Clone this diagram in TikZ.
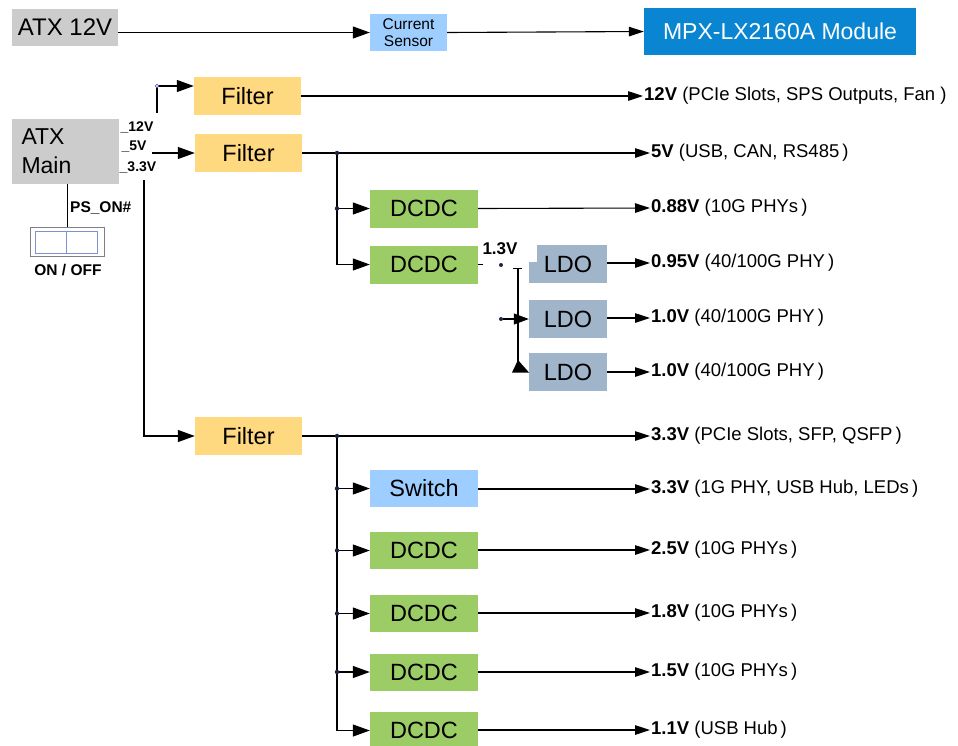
\documentclass[tikz,border=0pt]{standalone}
\usepackage{fontspec}
\setmainfont{Liberation Sans}
\usetikzlibrary{arrows.meta}
\definecolor{atxgray}{HTML}{CCCCCC}
\definecolor{filterc}{HTML}{FFD97F}
\definecolor{dcdcc}{HTML}{9BCC66}
\definecolor{ldoc}{HTML}{A0B4CA}
\definecolor{swc}{HTML}{9DCEFF}
\definecolor{mpxc}{HTML}{0A85D2}
\definecolor{dotc}{HTML}{1A2744}
\begin{document}
\begin{tikzpicture}[x=1pt,y=-1pt,
  blk/.style={rectangle, inner sep=0pt, draw=none, text=black},
  big/.style={font=\fontsize{23.5}{27}\selectfont},
  graybox/.style={blk, fill=atxgray},
  filterbox/.style={blk, big, fill=filterc, minimum width=107pt, minimum height=38pt},
  dcdcbox/.style={blk, big, fill=dcdcc, minimum width=108pt, minimum height=38pt},
  ldobox/.style={blk, big, fill=ldoc, minimum width=78pt, minimum height=38pt},
  swbox/.style={blk, big, fill=swc, minimum width=108pt, minimum height=37pt},
  outlbl/.style={anchor=west, inner sep=1pt, font=\fontsize{18.5}{21}\selectfont},
  small/.style={inner sep=0pt, font=\bfseries\fontsize{14}{16}\selectfont},
  wire/.style={line width=1.1pt, draw=black},
  arr/.style={wire, -{Triangle[length=17pt,width=12pt]}},
  outarr/.style={wire, -{Triangle[length=15pt,width=9.5pt]}},
  jdot/.style={circle, fill=dotc, inner sep=0pt, minimum size=4.5pt}
]
\useasboundingbox (0,0) rectangle (958,745);

% top row
\node[graybox, minimum width=106pt, minimum height=37pt, font=\fontsize{24}{28}\selectfont] (atx12) at (65,27.5) {ATX 12V};
\node[blk, fill=swc, minimum width=77pt, minimum height=37pt, align=center, font=\fontsize{15.5}{17}\selectfont] (sensor) at (408.5,32.5) {Current\\Sensor};
\node[blk, fill=mpxc, text=white, minimum width=272pt, minimum height=47pt, font=\fontsize{23}{27}\selectfont] (mpx) at (780,31.5) {MPX-LX2160A Module};
\draw[arr] (atx12.east |- sensor.west) -- (sensor.west);
\draw[outarr] (sensor.east) -- (mpx.west);

% ATX main
\node[graybox, minimum width=107pt, minimum height=65pt, text width=88pt, inner xsep=9.5pt, align=left, font=\fontsize{23}{29}\selectfont] (atxmain) at (65.5,151.5) {ATX\\Main};
\node[small] (v12) at (137,127) {\_12V};
\node[small] (v5) at (134,147) {\_5V};
\node[small] (v33) at (138,167) {\_3.3V};

% power switch
\node[blk, draw=gray, fill=white, line width=0.8pt, minimum width=74pt, minimum height=29pt] (onoff) at (67,241.5) {};
\draw[draw=ldoc!80!blue, line width=0.6pt] (35,231) rectangle (66,253) (66,231) rectangle (97,253);
\draw[wire, line width=0.9pt] (atxmain.south -| onoff.north) -- (onoff.north);
\node[small, anchor=west, font=\bfseries\fontsize{15.5}{17}\selectfont] (pson) at (70,208) {PS\_ON\#};
\node[small, font=\bfseries\fontsize{15.5}{17}\selectfont] (onofflbl) at (68,270) {ON / OFF};

% filters
\node[filterbox] (f1) at (247.5,96) {Filter};
\node[filterbox] (f2) at (248.5,153) {Filter};
\node[filterbox] (f3) at (248.5,436) {Filter};

\coordinate (c12) at (157,113);
\coordinate (k12) at (157,86);
\draw[arr] (c12) -- (k12) -- (k12 -| f1.west);
\draw[draw=blue!50!gray, fill=white, line width=0.5pt] (k12) circle (1.8pt);
\coordinate (c5) at (152,153);
\draw[arr] (c5) -- (f2.west);
\coordinate (c33) at (144,180);
\draw[arr] (c33) |- (f3.west);

% 12V output
\node[outlbl, anchor=west] (o12) at (643,96) {\textbf{12V} (PCIe Slots, SPS Outputs, Fan )};
\draw[outarr] (f1.east) -- (o12.west);

% 5V branch
\node[outlbl] (o5) at (650,153) {\textbf{5V} (USB, CAN, RS485\,)};
\draw[outarr] (f2.east) -- (o5.west);
\node[dcdcbox] (d1) at (424,208.5) {DCDC};
\node[dcdcbox] (d2) at (424,264.5) {DCDC};
\coordinate (j5) at (337,153);
\draw[arr] (j5) |- (d2.west);
\draw[arr] (j5 |- d1.west) -- (d1.west);
\node[jdot] at (j5) {};
\node[jdot] at (j5 |- d1.west) {};
\node[outlbl] (o088) at (650,208) {\textbf{0.88V} (10G PHYs\,)};
\draw[outarr] (d1.east) -- (o088.west);

% LDO section
\node[ldobox] (ldo1) at (568,264) {LDO};
\fill[white] (528.5,244.5) rectangle (537,262);
\node[ldobox] (ldo2) at (568,319) {LDO};
\node[ldobox] (ldo3) at (568,372) {LDO};
\draw[wire, line width=0.8pt] (d2.east) -- ++(5,0);
\node[small, font=\bfseries\fontsize{17}{19}\selectfont] (v13) at (500,249) {1.3V};
\node[jdot, minimum size=4pt] (j13) at (501,265) {};
\coordinate (tk) at (518,268);
\draw[wire, line width=0.8pt] (513,268) -- (522,268);
\coordinate (tb) at (518,365);
\draw[wire] (tk) -- (tb);
\fill (512,372.5) -- (529,372.5) -- (518,360) -- cycle;
\node[jdot, minimum size=4pt] (j2) at (501,319) {};
\draw[wire, -{Triangle[length=15pt,width=11pt]}] (j2) -- (ldo2.west);
\node[outlbl] (o095) at (650,263) {\textbf{0.95V} (40/100G PHY\,)};
\node[outlbl] (o10a) at (650,318) {\textbf{1.0V} (40/100G PHY\,)};
\node[outlbl] (o10b) at (650,372) {\textbf{1.0V} (40/100G PHY\,)};
\draw[outarr] (ldo1.east |- o095.west) -- (o095.west);
\draw[outarr] (ldo2.east |- o10a.west) -- (o10a.west);
\draw[outarr] (ldo3.east) -- (o10b.west);

% 3.3V branch
\node[outlbl] (o33) at (650,436) {\textbf{3.3V} (PCIe Slots, SFP, QSFP\,)};
\draw[outarr] (f3.east) -- (o33.west);
\node[swbox] (sw) at (424,488.5) {Switch};
\node[dcdcbox, minimum height=37pt] (d3) at (424,550.5) {DCDC};
\node[dcdcbox, minimum height=37pt] (d4) at (424,613.5) {DCDC};
\node[dcdcbox, minimum height=37pt] (d5) at (424,672) {DCDC};
\node[dcdcbox, minimum height=37pt] (d6) at (424,730.5) {DCDC};
\coordinate (j3) at (337,436);
\draw[arr] (j3) |- (d6.west);
\foreach \b in {sw,d3,d4,d5}{
  \draw[arr] (j3 |- \b.west) -- (\b.west);
  \node[jdot] at (j3 |- \b.west) {};
}
\node[jdot] at (j3) {};
\node[outlbl] (o33b) at (650,489) {\textbf{3.3V} (1G PHY, USB Hub, LEDs\,)};
\node[outlbl] (o25) at (650,550) {\textbf{2.5V} (10G PHYs\,)};
\node[outlbl] (o18) at (650,613) {\textbf{1.8V} (10G PHYs\,)};
\node[outlbl] (o15) at (650,672) {\textbf{1.5V} (10G PHYs\,)};
\node[outlbl] (o11) at (650,730) {\textbf{1.1V} (USB Hub\,)};
\draw[outarr] (sw.east |- o33b.west) -- (o33b.west);
\draw[outarr] (d3.east |- o25.west) -- (o25.west);
\draw[outarr] (d4.east |- o18.west) -- (o18.west);
\draw[outarr] (d5.east |- o15.west) -- (o15.west);
\draw[outarr] (d6.east |- o11.west) -- (o11.west);
\end{tikzpicture}
\end{document}
